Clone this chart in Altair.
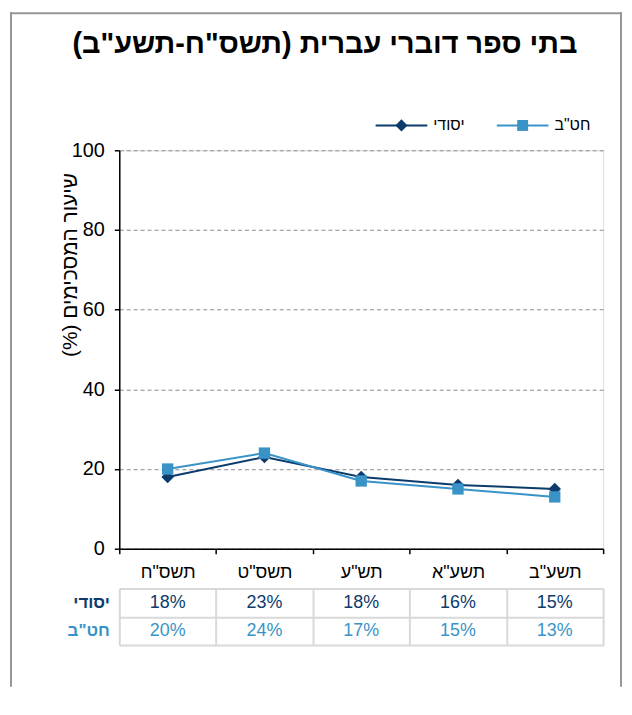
import altair as alt
import pandas as pd

years = ['תשס"ח', 'תשס"ט', 'תש"ע', 'תשע"א', 'תשע"ב']
series_names = ['יסודי', 'חט"ב']
elementary = [18, 23, 18, 16, 15]
middle_school = [20, 24, 17, 15, 13]
colors = ['#0c3b6c', '#3a93c7']
marker_shapes = ['diamond', 'square']
chart_title = '\u200fבתי ספר דוברי עברית (תשס"ח-תשע"ב)\u200f'
y_title = '\u200fשיעור המסכימים (%)\u200f'

NAVY, LIGHT = colors
FONT = 'Liberation Sans, Arial, DejaVu Sans'

rows = []
for s, vals in zip(series_names, [elementary, middle_school]):
    for yr, v in zip(years, vals):
        rows.append({'year': yr, 'series': s, 'value': v, 'label': f'{v}%'})
df = pd.DataFrame(rows)

W, H = 487, 401

x_scale = alt.Scale(type='band', domain=years, paddingInner=0, paddingOuter=0)

x_main = alt.X('year:N', sort=years, scale=x_scale,
               axis=alt.Axis(title=None, tickBand='extent', labelFontSize=18,
                             labelColor='black', labelPadding=10, tickSize=5,
                             tickColor='black', tickWidth=1.5, domainColor='black',
                             domainWidth=1.5, labelAngle=0, grid=False))
y_main = alt.Y('value:Q', scale=alt.Scale(domain=[0, 100], nice=False),
               axis=alt.Axis(values=[0, 20, 40, 60, 80, 100], title=y_title,
                             titleX=-49, titleY=115, titleFontSize=21,
                             titleBaseline='middle',
                             titleFontWeight='normal', titleColor='black',
                             labelFontSize=20, labelColor='black', labelPadding=10,
                             tickSize=5, tickColor='black', tickWidth=1.5,
                             domainColor='black', domainWidth=1.5, grid=True,
                             gridDash=[4, 3], gridColor='#8c8c8c', gridWidth=1))

color = alt.Color('series:N', scale=alt.Scale(domain=series_names, range=colors), legend=None)

lines = alt.Chart(df).mark_line(strokeWidth=2).encode(x=x_main, y=y_main, color=color)
points = alt.Chart(df).mark_point(filled=True, opacity=1, strokeWidth=0).encode(
    x=x_main, y=y_main,
    fill=alt.Fill('series:N', scale=alt.Scale(domain=series_names, range=colors), legend=None),
    shape=alt.Shape('series:N', scale=alt.Scale(domain=series_names, range=marker_shapes), legend=None),
    size=alt.Size('series:N', scale=alt.Scale(domain=series_names, range=[160, 130]), legend=None),
)

one = pd.DataFrame({'a': [0]})

# legend (line + marker + label), drawn by hand to match the Excel style
legend_layers = []
LEG_Y = -25
for name, col, shp, sz, x0 in zip(series_names, colors, marker_shapes, [150, 121], [258, 380]):
    legend_layers.append(alt.Chart(one).mark_rule(color=col, strokeWidth=2).encode(
        x=alt.value(x0), x2=alt.value(x0 + 52), y=alt.value(LEG_Y)))
    legend_layers.append(alt.Chart(one).mark_point(shape=shp, filled=True, size=sz, color=col,
                                                   opacity=1, strokeWidth=0).encode(
        x=alt.value(x0 + 26), y=alt.value(LEG_Y)))
    legend_layers.append(alt.Chart(one).mark_text(text=name, align='left', baseline='middle',
                                                  fontSize=16, color='black', font=FONT).encode(
        x=alt.value(x0 + 58), y=alt.value(LEG_Y)))

frame_style = dict(stroke='#969696', strokeWidth=2)
frame_left = alt.Chart(one).mark_rule(**frame_style).encode(
    x=alt.value(-109), y=alt.value(-139), y2=alt.value(540))
frame_top = alt.Chart(one).mark_rule(**frame_style).encode(
    x=alt.value(-110), x2=alt.value(506), y=alt.value(-138))
frame_right = alt.Chart(one).mark_rule(**frame_style).encode(
    x=alt.value(505), y=alt.value(-139), y2=alt.value(540))
title = alt.Chart(one).mark_text(text=chart_title, fontSize=29, fontWeight='bold',
                                 align='center', baseline='middle', color='black', font=FONT).encode(
    x=alt.value(207), y=alt.value(-107))

top = alt.layer(frame_left, frame_top, frame_right, title, *legend_layers, lines, points).properties(
    width=W, height=H)

label_color = {'condition': {'test': "datum.value === 'יסודי'", 'value': NAVY}, 'value': LIGHT}
table = alt.Chart(df).mark_text(fontSize=18, font=FONT).encode(
    x=alt.X('year:N', sort=years, scale=x_scale,
            axis=alt.Axis(title=None, labels=False, ticks=False, domain=False, grid=True,
                          tickBand='extent', gridColor='#d9d9d9', gridWidth=2, orient='top')),
    y=alt.Y('series:N', sort=series_names,
            scale=alt.Scale(type='band', domain=series_names, paddingInner=0, paddingOuter=0),
            axis=alt.Axis(title=None, ticks=False, domain=False, grid=True, tickBand='extent',
                          gridColor='#d9d9d9', gridWidth=2, labelFontSize=17,
                          labelFontWeight='bold', labelPadding=10, labelColor=label_color)),
    text='label:N',
    color=alt.condition(alt.datum.series == 'יסודי', alt.value(NAVY), alt.value(LIGHT)),
).properties(width=W, height=57)

chart = alt.vconcat(top, table, spacing=40, bounds='flush').configure_view(stroke=None).configure(
    font=FONT).resolve_scale(x='independent').properties(padding=0)

chart.save('out.html', embed_options={'renderer': 'svg', 'actions': False})
